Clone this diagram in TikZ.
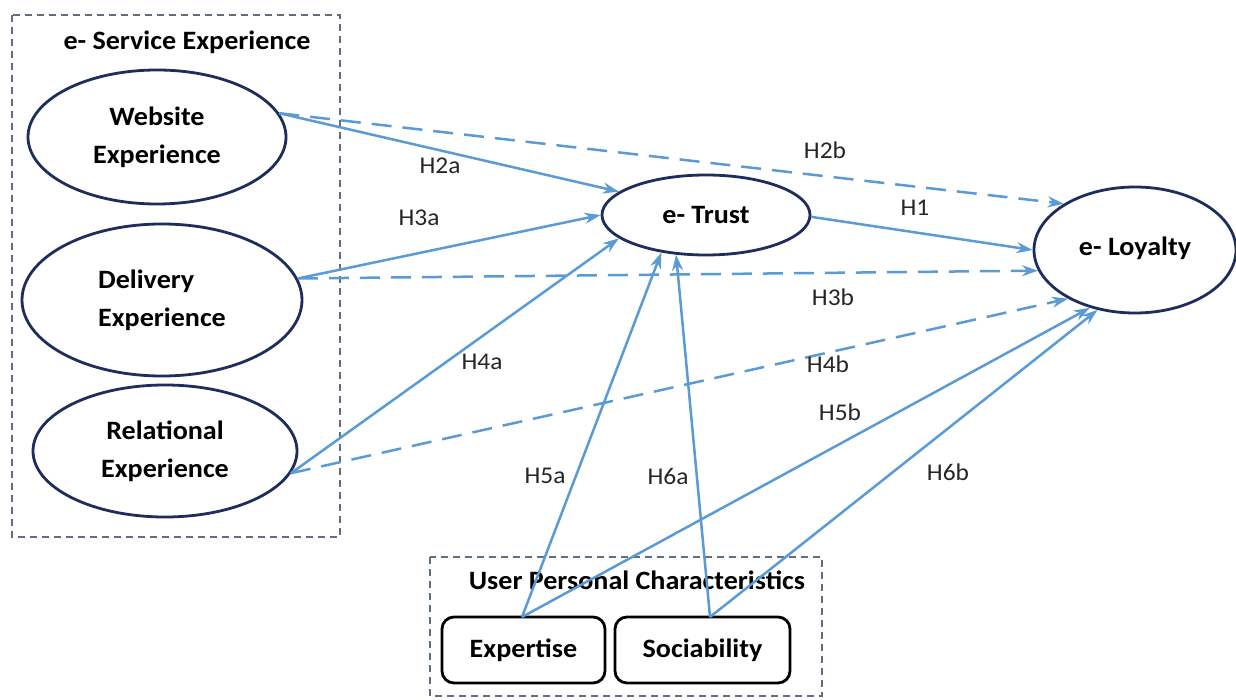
\documentclass[tikz,border=0pt]{standalone}
\usepackage{fontspec}
\setmainfont{Carlito}[FakeStretch=1.06]
\usetikzlibrary{arrows.meta,shapes.geometric}
\definecolor{navy}{HTML}{1F2D5C}
\definecolor{arrowblue}{HTML}{5B9BD5}
\definecolor{boxgray}{HTML}{5F6E82}
\begin{document}
\begin{tikzpicture}[x=1pt,y=-1pt,
 ell/.style={ellipse,draw=navy,line width=2.8pt,fill=white,inner sep=0pt,align=center,font=\fontsize{26.5}{38}\selectfont\bfseries},
 pbox/.style={rectangle,rounded corners=12pt,draw=black,line width=2.8pt,fill=white,inner sep=0pt,font=\fontsize{26.5}{30}\selectfont\bfseries},
 grp/.style={draw=boxgray,line width=1.4pt,dash pattern=on 7pt off 5pt},
 ttl/.style={font=\fontsize{26.5}{30}\selectfont\bfseries},
 hyp/.style={font=\fontsize{24}{28}\selectfont, text=black!85},
 sol/.style={draw=arrowblue,line width=2.5pt,-{Stealth[length=16pt,width=11pt]}},
 dsh/.style={sol,dash pattern=on 20pt off 11pt}
]
\useasboundingbox (0,0) rectangle (1236,700);
\fill[white] (0,0) rectangle (1236,700);

% group boxes
\draw[grp] (12,15) rectangle (340,537);
\draw[grp] (430,557) rectangle (822,696);
\node[ttl] (t1) at (187,42) {e- Service Experience};
\node[ttl] (t2) at (637,580) {User Personal Characteristics};

% nodes
\node[ell,minimum width=258pt,minimum height=134pt] (web) at (157,137) {Website\\Experience};
\node[ell,minimum width=280pt,minimum height=152pt,align=left] (del) at (162,300) {Delivery\\Experience};
\node[ell,minimum width=264pt,minimum height=132pt] (rel) at (165,451) {Relational\\Experience};
\node[ell,minimum width=208pt,minimum height=80pt] (trust) at (706,215) {e- Trust};
\node[ell,minimum width=202pt,minimum height=126pt] (loy) at (1135,250) {\raisebox{8pt}{e- Loyalty}};
\node[pbox,minimum width=163pt,minimum height=66pt] (exp) at (523.5,650) {Expertise};
\node[pbox,minimum width=175pt,minimum height=66pt] (soc) at (702.5,650) {Sociability};
\coordinate (expt) at (522,617);
\coordinate (soct) at (710,617);

% connectors
\draw[dsh] (web.11) -- (loy.147);
\draw[sol] (web.11) -- (trust.165);
\draw[sol] (del.9) -- (trust.180);
\draw[dsh] (del.9) -- (loy.192);
\draw[sol] (rel.-10) -- (trust.195);
\draw[dsh] (rel.-10) -- (loy.216);
\draw[sol] (expt) -- (trust.220);
\draw[sol] (expt) -- (loy.232);
\draw[sol] (soct) -- (trust.233);
\draw[sol] (soct) -- (loy.238);
\draw[sol] (trust.-1) -- (loy.180);

% labels
\node[hyp] (l2a) at (440,166) {H2a};
\node[hyp] (l2b) at (825,150) {H2b};
\node[hyp] (l3a) at (419,218) {H3a};
\node[hyp] (l1) at (915,208) {H1};
\node[hyp] (l3b) at (833,297) {H3b};
\node[hyp] (l4a) at (482,362) {H4a};
\node[hyp] (l4b) at (828,364) {H4b};
\node[hyp] (l5b) at (840,412) {H5b};
\node[hyp] (l6b) at (948,472) {H6b};
\node[hyp] (l5a) at (545,476) {H5a};
\node[hyp] (l6a) at (668,476) {H6a};
\end{tikzpicture}
\end{document}
